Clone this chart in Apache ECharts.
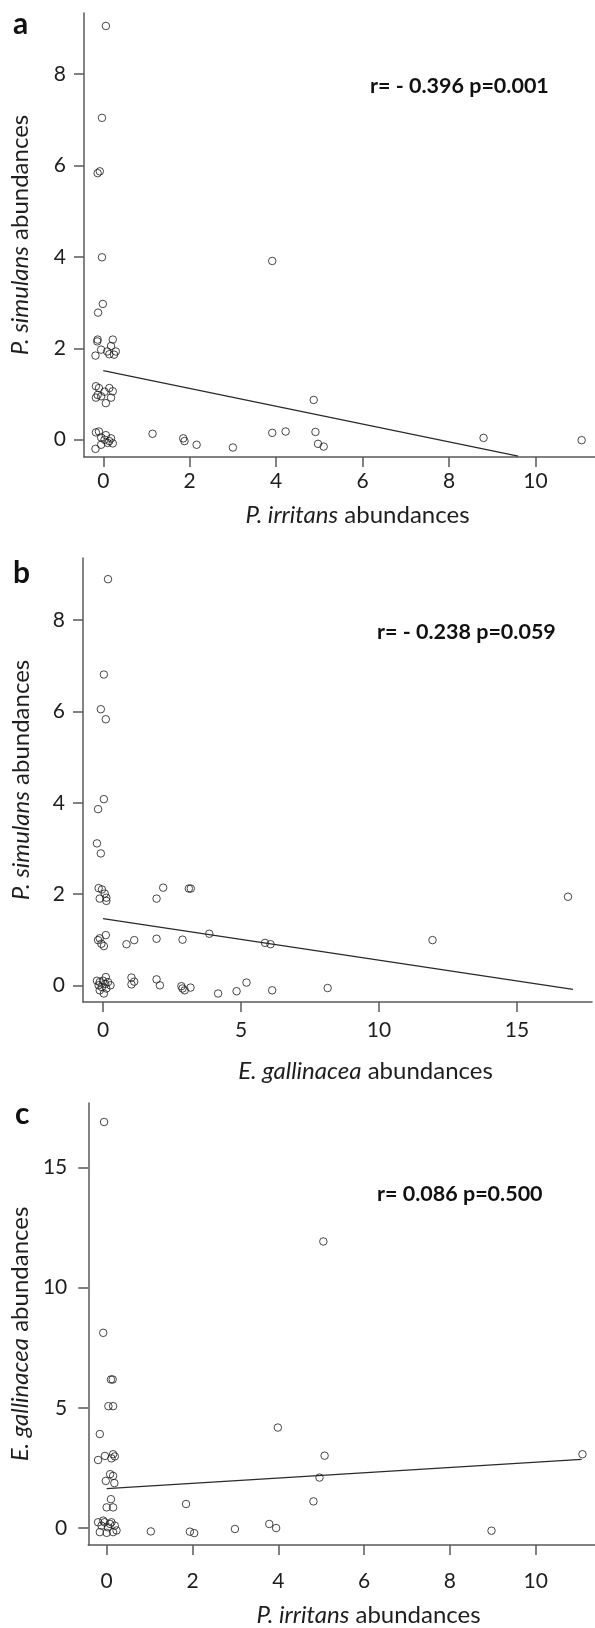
<!DOCTYPE html>
<html>
<head>
<meta charset="utf-8">
<script src="https://cdn.jsdelivr.net/npm/echarts@6/dist/echarts.min.js"></script>
<style>
  html, body { margin: 0; padding: 0; background: #fff; }
  #chart { width: 595px; height: 1628px; }
</style>
</head>
<body>
<div id="chart"></div>
<script>
// panel a: P. irritans (x) vs P. simulans (y)
const irritansA = [0.06, -0.03, -0.13, -0.08, -0.03, 3.91, -0.01, -0.12,
  -0.13, -0.14, -0.18, -0.05, 0.22, 0.18, 0.14, 0.25, 0.29, 0.09,
  -0.17, -0.10, -0.13, -0.05, 0.14, 0.22, 0.06, 0.03, -0.17, 0.18,
  -0.17, -0.10, -0.18, -0.05, 0.03, 0.10, 0.18, 0.14, 0.06, -0.05, 0.22,
  1.14, 1.85, 1.88, 2.16, 3.00, 3.91, 4.22, 4.87, 4.91, 4.97, 5.10, 8.80, 11.07];
const simulansA = [9.05, 7.04, 5.83, 5.87, 3.99, 3.91, 2.97, 2.78,
  2.19, 2.15, 1.84, 1.97, 2.19, 2.05, 1.87, 1.86, 1.93, 1.93,
  1.17, 1.13, 0.98, 0.95, 1.13, 1.06, 0.80, 1.05, 0.92, 0.92,
  0.16, 0.18, -0.20, 0.05, 0.00, -0.07, 0.03, -0.03, 0.10, -0.11, -0.08,
  0.13, 0.03, -0.03, -0.11, -0.17, 0.15, 0.18, 0.87, 0.17, -0.09, -0.15, 0.04, -0.01];
const fitA = [[0, 1.51], [9.6, -0.36]];

// panel b: E. gallinacea (x) vs P. simulans (y)
const gallinaceaB = [0.18, 0.03, -0.08, 0.10, 0.03, -0.18, -0.22, -0.08,
  -0.16, -0.04, 0.06, 0.12, -0.12, 0.12, 1.94, 2.18, 3.11, 3.18,
  -0.18, -0.06, 0.03, 0.10, -0.12, 0.85, 1.13, 1.94, 2.88, 3.85, 5.87, 6.07,
  -0.12, 0.00, 0.10, -0.16, -0.04, 0.08, 0.18, -0.22, 0.03, 0.12, -0.12, 0.27,
  1.03, 1.13, 1.03, 1.94, 2.06, 2.84, 2.96, 3.17, 2.88, 4.17, 4.84, 5.20, 6.13,
  8.14, 11.94, 16.85];
const simulansB = [8.90, 6.81, 6.05, 5.83, 4.08, 3.86, 3.11, 2.89,
  2.13, 2.10, 2.01, 1.92, 1.90, 1.85, 1.90, 2.14, 2.12, 2.12,
  0.99, 0.91, 0.86, 1.10, 1.03, 0.90, 0.99, 1.02, 1.00, 1.13, 0.93, 0.90,
  0.07, 0.10, 0.18, 0.00, -0.04, 0.03, 0.07, 0.10, -0.18, -0.07, -0.11, 0.00,
  0.17, 0.08, 0.02, 0.13, 0.00, -0.02, -0.11, -0.05, -0.07, -0.18, -0.13, 0.06, -0.11,
  -0.06, 0.99, 1.94];
const fitB = [[0, 1.46], [17.03, -0.09]];

// panel c: P. irritans (x) vs E. gallinacea (y)
const irritansC = [-0.06, -0.08, 0.10, 0.14, 0.04, 0.15, -0.16, -0.20, -0.04,
  0.15, 0.19, 0.11, 0.08, 0.15, -0.02, 0.18, 0.10, 0.00, 0.15,
  -0.20, -0.12, -0.05, 0.03, 0.11, 0.19, -0.16, 0.00, 0.15, 0.23, -0.08, 0.08,
  1.03, 1.85, 1.94, 2.04, 2.99, 3.79, 3.95, 3.99, 5.05, 5.08, 4.96, 4.82, 8.97, 11.09];
const gallinaceaC = [16.89, 8.12, 6.18, 6.18, 5.07, 5.07, 3.91, 2.83, 3.00,
  3.07, 2.98, 2.90, 2.24, 2.17, 1.96, 1.87, 1.20, 0.86, 0.86,
  0.24, 0.10, 0.24, 0.03, 0.24, 0.10, -0.17, -0.20, -0.17, -0.10, 0.31, 0.17,
  -0.14, 1.00, -0.15, -0.21, -0.04, 0.17, 0.00, 4.18, 11.92, 3.01, 2.10, 1.11, -0.11, 3.07];
const fitC = [[0, 1.64], [11.07, 2.86]];

const ticksA = { x: [0, 2, 4, 6, 8, 10], y: [0, 2, 4, 6, 8] };
const ticksB = { x: [0, 5, 10, 15], y: [0, 2, 4, 6, 8] };
const ticksC = { x: [0, 2, 4, 6, 8, 10], y: [0, 5, 10, 15] };

const FONT = 'Lato';
const TXT = '#1e1e1e';
const AX = '#5a5a5a';
const TICK_SIZE = 21;
const NAME_SIZE = 24;

function zip(xs, ys) {
  return xs.map((x, i) => [x, ys[i]]);
}

function nameStyle(padding) {
  return {
    fontSize: NAME_SIZE, fontFamily: FONT, color: TXT, padding: padding,
    rich: { i: { fontSize: NAME_SIZE, fontFamily: FONT, color: TXT, fontStyle: 'italic' } }
  };
}

function xAxis(idx, min, max, ticks, name, labelMargin, nameGap, shift) {
  return {
    gridIndex: idx, type: 'value', min: min, max: max,
    splitLine: { show: false },
    axisLine: { onZero: false, lineStyle: { color: AX, width: 1.5 } },
    axisTick: { customValues: ticks, length: 10, lineStyle: { color: AX, width: 1.5 } },
    axisLabel: { customValues: ticks, margin: labelMargin, fontSize: TICK_SIZE, fontFamily: FONT, color: TXT },
    name: name, nameLocation: 'middle', nameGap: nameGap,
    nameTextStyle: nameStyle([0, 0, 0, shift])
  };
}

function yAxis(idx, min, max, ticks, name, labelMargin, nameGap, shift) {
  return {
    gridIndex: idx, type: 'value', min: min, max: max,
    splitLine: { show: false },
    axisLine: { onZero: false, lineStyle: { color: AX, width: 1.5 } },
    axisTick: { customValues: ticks, length: 10, lineStyle: { color: AX, width: 1.5 } },
    axisLabel: { customValues: ticks, margin: labelMargin, fontSize: TICK_SIZE, fontFamily: FONT, color: TXT },
    name: name, nameLocation: 'middle', nameGap: nameGap,
    nameTextStyle: nameStyle([0, shift, 0, 0])
  };
}

function points(idx, data) {
  return {
    type: 'scatter', xAxisIndex: idx, yAxisIndex: idx, data: data,
    symbol: 'circle', symbolSize: 7.5,
    itemStyle: { color: 'rgba(0,0,0,0)', borderColor: '#1a1a1a', borderWidth: 1 }
  };
}

function fit(idx, data) {
  return {
    type: 'line', xAxisIndex: idx, yAxisIndex: idx, data: data,
    showSymbol: false, symbol: 'none', silent: true,
    lineStyle: { color: '#2a2a2a', width: 1.2 }
  };
}

function label(x, y, text, size) {
  return {
    type: 'text', x: x, y: y,
    style: { text: text, font: 'bold ' + size + 'px ' + FONT, fill: '#111', verticalAlign: 'middle' }
  };
}

const chart = echarts.init(document.getElementById('chart'), null, { renderer: 'canvas' });

chart.setOption({
  animation: false,
  backgroundColor: '#fff',
  grid: [
    { left: 83, top: 13, width: 512, height: 444 },
    { left: 83, top: 558, width: 509, height: 444 },
    { left: 88, top: 1103, width: 507, height: 443 }
  ],
  xAxis: [
    xAxis(0, -0.446, 11.379, ticksA.x, '{i|P. irritans} abundances', 14, 46, 36),
    xAxis(1, -0.726, 17.72, ticksB.x, '{i|E. gallinacea} abundances', 18, 57, 56),
    xAxis(2, -0.429, 11.382, ticksC.x, '{i|P. irritans} abundances', 26, 58, 54)
  ],
  yAxis: [
    yAxis(0, -0.378, 9.333, ticksA.y, '{i|P. simulans} abundances', 18, 52, 0),
    yAxis(1, -0.366, 9.364, ticksB.y, '{i|P. simulans} abundances', 18, 50, 0),
    yAxis(2, -0.705, 17.68, ticksC.y, '{i|E. gallinacea} abundances', 21, 50, 20)
  ],
  series: [
    points(0, zip(irritansA, simulansA)), fit(0, fitA),
    points(1, zip(gallinaceaB, simulansB)), fit(1, fitB),
    points(2, zip(irritansC, gallinaceaC)), fit(2, fitC)
  ],
  graphic: [
    label(13, 24, 'a', 30),
    label(13, 573, 'b', 30),
    label(15, 1114, 'c', 30),
    label(370, 86, 'r= - 0.396 p=0.001', 21.5),
    label(377, 632, 'r= - 0.238 p=0.059', 21.5),
    label(377, 1194, 'r= 0.086 p=0.500', 21.5)
  ]
});
</script>
</body>
</html>
